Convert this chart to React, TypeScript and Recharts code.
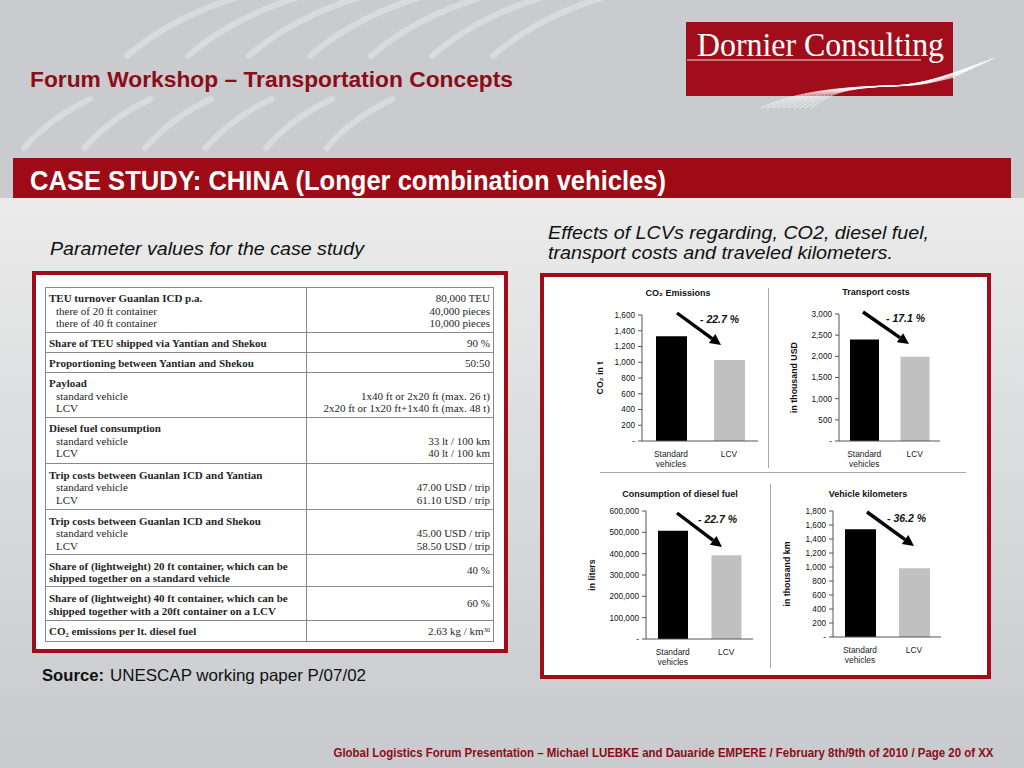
import React from 'react';
import { BarChart, Bar, XAxis, YAxis, Cell } from 'recharts';

// ---------- chart data ----------
const categories = ['Standard vehicles', 'LCV'];
const co2Values = [1330, 1028];
const costValues = [2400, 1990];
const dieselValues = [508000, 392700];
const kmValues = [1540, 983];

const co2Ticks = [0, 200, 400, 600, 800, 1000, 1200, 1400, 1600];
const costTicks = [0, 500, 1000, 1500, 2000, 2500, 3000];
const dieselTicks = [0, 100000, 200000, 300000, 400000, 500000, 600000];
const kmTicks = [0, 200, 400, 600, 800, 1000, 1200, 1400, 1600, 1800];

const chartTitles = ['CO₂ Emissions', 'Transport costs', 'Consumption of diesel fuel', 'Vehicle kilometers'];
const axisLabels = ['CO₂ in t', 'in thousand USD', 'in liters', 'in thousand km'];
const reductions = ['- 22.7 %', '- 17.1 %', '- 22.7 %', '- 36.2 %'];
const barFills = ['#000000', '#c0c0c0'];

// ---------- table text ----------
type Line = { t: string; b?: boolean };
const tableLeft: Line[][] = [
  [{ t: 'TEU turnover Guanlan ICD p.a.', b: true }, { t: 'there of 20 ft container' }, { t: 'there of 40 ft container' }],
  [{ t: 'Share of TEU shipped via Yantian and Shekou', b: true }],
  [{ t: 'Proportioning between Yantian and Shekou', b: true }],
  [{ t: 'Payload', b: true }, { t: 'standard vehicle' }, { t: 'LCV' }],
  [{ t: 'Diesel fuel consumption', b: true }, { t: 'standard vehicle' }, { t: 'LCV' }],
  [{ t: 'Trip costs between Guanlan ICD and Yantian', b: true }, { t: 'standard vehicle' }, { t: 'LCV' }],
  [{ t: 'Trip costs between Guanlan ICD and Shekou', b: true }, { t: 'standard vehicle' }, { t: 'LCV' }],
  [{ t: 'Share of (lightweight) 20 ft container, which can be', b: true }, { t: 'shipped together on a standard vehicle', b: true }],
  [{ t: 'Share of (lightweight) 40 ft container, which can be', b: true }, { t: 'shipped together with a 20ft container on a LCV', b: true }],
  [{ t: 'CO₂ emissions per lt. diesel fuel', b: true }],
];
const tableRight: string[][] = [
  ['80,000 TEU', '40,000 pieces', '10,000 pieces'],
  ['90 %'],
  ['50:50'],
  ['', '1x40 ft or 2x20 ft (max. 26 t)', '2x20 ft or 1x20 ft+1x40 ft (max. 48 t)'],
  ['', '33 lt / 100 km', '40 lt / 100 km'],
  ['', '47.00 USD / trip', '61.10 USD / trip'],
  ['', '45.00 USD / trip', '58.50 USD / trip'],
  ['40 %'],
  ['60 %'],
  ['2.63 kg / km'],
];
const rowHeights = [45, 20, 20, 45, 46.6, 46, 45, 32.4, 33.3, 20.3];
const rowMiddle = [false, false, false, false, false, false, false, true, true, false];

const fmt = (v: number) => (v === 0 ? '-' : v.toLocaleString('en-US'));

const XTick = (props: any) => {
  const { x, y, payload } = props;
  const v = String(payload.value);
  const words = v.length > 8 ? v.split(' ') : [v];
  return (
    <text x={x} y={y} textAnchor="middle" fontSize={8.4} fill="#1a1a1a">
      {words.map((w, i) => (
        <tspan key={i} x={x} dy={i === 0 ? '0.95em' : '1.22em'}>
          {w}
        </tspan>
      ))}
    </text>
  );
};

type MiniProps = {
  left: number;
  top: number;
  yAxisWidth: number;
  plotWidth: number;
  plotHeight: number;
  values: number[];
  ticks: number[];
  label: string;
  labelX: number;
  barSize: number;
};

function MiniChart(p: MiniProps) {
  const data = categories.map((c, i) => ({ name: c, value: p.values[i] }));
  const mt = 10;
  const mr = 5;
  const xh = 30;
  const width = p.yAxisWidth + p.plotWidth + mr;
  const height = mt + p.plotHeight + xh;
  return (
    <div style={{ position: 'absolute', left: p.left, top: p.top, fontFamily: '"Liberation Sans", Arial, sans-serif' }}>
      <BarChart width={width} height={height} data={data} margin={{ top: mt, right: mr, bottom: 0, left: 0 }} barCategoryGap={0}>
        <XAxis
          dataKey="name"
          height={xh}
          tick={<XTick />}
          tickLine={false}
          tickMargin={2}
          axisLine={{ stroke: '#555' }}
          interval={0}
        />
        <YAxis
          width={p.yAxisWidth}
          domain={[0, p.ticks[p.ticks.length - 1]]}
          ticks={p.ticks}
          interval={0}
          tickFormatter={fmt}
          tick={{ fontSize: 8.2, fill: '#111' }}
          tickSize={4}
          tickMargin={3}
          tickLine={{ stroke: '#555' }}
          axisLine={{ stroke: '#555' }}
          allowDataOverflow
          label={{
            value: p.label,
            angle: -90,
            position: 'insideLeft',
            offset: p.labelX,
            style: { textAnchor: 'middle', fontSize: 8.8, fontWeight: 'bold', fill: '#111' },
          }}
        />
        <Bar dataKey="value" barSize={p.barSize} isAnimationActive={false}>
          {data.map((d, i) => (
            <Cell key={i} fill={barFills[i]} />
          ))}
        </Bar>
      </BarChart>
    </div>
  );
}

function Arrow({ x1, y1, x2, y2 }: { x1: number; y1: number; x2: number; y2: number }) {
  const ang = Math.atan2(y2 - y1, x2 - x1);
  const hl = 11;
  const hw = 5.5;
  const bx = x2 - hl * Math.cos(ang);
  const by = y2 - hl * Math.sin(ang);
  const px = -Math.sin(ang) * hw;
  const py = Math.cos(ang) * hw;
  return (
    <g>
      <line x1={x1} y1={y1} x2={bx} y2={by} stroke="#000" strokeWidth={3.4} />
      <polygon points={`${x2},${y2} ${bx + px},${by + py} ${bx - px},${by - py}`} fill="#000" />
    </g>
  );
}

const red = '#9e0b16';
const darkRed = '#8c0d17';
const narrow = '"Liberation Sans Narrow", "Arial Narrow", "Liberation Sans", Arial, sans-serif';

export default function App() {
  const topStripes = [0, 1, 2, 3, 4, 5, 6];
  const bottomStripes = [0, 1, 2, 3, 4, 5];
  const swoosh = [0, 1, 2, 3, 4, 5, 6, 7, 8, 9];
  return (
    <div
      style={{
        position: 'absolute',
        left: 0,
        top: 0,
        width: 1024,
        height: 768,
        overflow: 'hidden',
        fontFamily: '"Liberation Sans", Arial, sans-serif',
      }}
    >
      <svg width={1024} height={768} style={{ position: 'absolute', left: 0, top: 0 }}>
        <defs>
          <linearGradient id="bgGrad" x1="0" y1="0" x2="0" y2="1">
            <stop offset="0" stopColor="#ebebeb" />
            <stop offset="1" stopColor="#c9cbce" />
          </linearGradient>
        </defs>
        <rect x={0} y={0} width={1024} height={768} fill="#c9cbce" />
        <rect x={0} y={198} width={1024} height={545} fill="url(#bgGrad)" />

        {/* background stripes */}
        {topStripes.map((i) => (
          <path
            key={'t' + i}
            d={`M ${127 + 61 * i} 56 Q ${170 + 61 * i} 18 ${238 + 61 * i} -3`}
            stroke="#d9dadc"
            strokeWidth={6}
            fill="none"
            strokeLinecap="round"
          />
        ))}
        {bottomStripes.map((i) => (
          <path
            key={'b' + i}
            d={`M ${24 + 60.5 * i} 148 Q ${50 + 60.5 * i} 118 ${90 + 60.5 * i} 99`}
            stroke="#d9dadc"
            strokeWidth={6}
            fill="none"
            strokeLinecap="round"
          />
        ))}

        {/* header */}
        <text x={30} y={87} fontFamily={narrow} fontSize={22} fontWeight="bold" fill={darkRed} textLength={483} lengthAdjust="spacingAndGlyphs">
          Forum Workshop – Transportation Concepts
        </text>

        {/* logo */}
        <rect x={686} y={22} width={267} height={74} fill="#a10d1b" />
        <text
          x={697}
          y={55.5}
          fontSize={33}
          fontFamily='"Liberation Serif", "Times New Roman", serif'
          fill="#fff"
          textLength={247}
          lengthAdjust="spacingAndGlyphs"
        >
          Dornier Consulting
        </text>
        <line x1={687} y1={60} x2={921} y2={60} stroke="#f3d6d8" strokeWidth={1.2} />
        {swoosh.map((i) => (
          <path
            key={'s' + i}
            d={`M ${761 + 5.5 * i} 108 C ${792 + 4 * i} ${93 + 0.4 * i} ${835} ${87 + 0.2 * i} ${888} ${86} C ${925} ${85.5} ${928 + 3 * i} ${83 - 1.2 * i} ${955 + 4.4 * i} ${77 - 2.1 * i}`}
            stroke="#ffffff"
            strokeOpacity={0.85}
            strokeWidth={0.8}
            fill="none"
          />
        ))}

        {/* banner */}
        <rect x={13} y={158} width={998} height={40} fill={red} />
        <text x={30} y={190} fontFamily={narrow} fontSize={27} fontWeight="bold" fill="#fff" textLength={636} lengthAdjust="spacingAndGlyphs">
          CASE STUDY: CHINA (Longer combination vehicles)
        </text>

        {/* section headings */}
        <text x={50} y={254.5} fontSize={18} fontStyle="italic" fill="#111" textLength={314} lengthAdjust="spacingAndGlyphs">
          Parameter values for the case study
        </text>
        <text x={548} y={238.5} fontSize={18} fontStyle="italic" fill="#111" textLength={381} lengthAdjust="spacingAndGlyphs">
          Effects of LCVs regarding, CO2, diesel fuel,
        </text>
        <text x={548} y={259} fontSize={18} fontStyle="italic" fill="#111" textLength={345} lengthAdjust="spacingAndGlyphs">
          transport costs and traveled kilometers.
        </text>

        {/* frames */}
        <rect x={34} y={273} width={472} height={378} fill="#fff" stroke="#a00c17" strokeWidth={4} />
        <rect x={542} y={275} width={447} height={402} fill="#fff" stroke="#a00c17" strokeWidth={4} />

        {/* chart dividers */}
        <line x1={768.5} y1={288} x2={768.5} y2={468} stroke="#a8a8a8" strokeWidth={1} />
        <line x1={600} y1={472.5} x2={966} y2={472.5} stroke="#a8a8a8" strokeWidth={1} />
        <line x1={770.5} y1={484} x2={770.5} y2={668} stroke="#a8a8a8" strokeWidth={1} />

        {/* source */}
        <text x={42} y={681} fontSize={16.5} fontWeight="bold" fill="#111" textLength={62} lengthAdjust="spacingAndGlyphs">
          Source:
        </text>
        <text x={110} y={681} fontSize={16.5} fill="#111" textLength={256} lengthAdjust="spacingAndGlyphs">
          UNESCAP working paper P/07/02
        </text>

        {/* footer */}
        <text x={333.5} y={756.5} fontFamily={narrow} fontSize={12} fontWeight="bold" fill={darkRed} textLength={660} lengthAdjust="spacingAndGlyphs">
          Global Logistics Forum Presentation – Michael LUEBKE and Dauaride EMPERE / February 8th/9th of 2010 / Page 20 of XX
        </text>
      </svg>

      {/* parameter table */}
      <div
        style={{
          position: 'absolute',
          left: 45,
          top: 286.5,
          width: 449,
          border: '1px solid #8a8a8a',
          boxSizing: 'border-box',
          fontFamily: '"Liberation Serif", "Times New Roman", serif',
          fontSize: 11,
          color: '#262626',
          lineHeight: '12.6px',
          background: '#fff',
        }}
      >
        {tableLeft.map((lines, r) => (
          <div
            key={r}
            style={{
              display: 'flex',
              height: rowHeights[r],
              boxSizing: 'border-box',
              borderBottom: r < tableLeft.length - 1 ? '1px solid #8a8a8a' : 'none',
            }}
          >
            <div
              style={{
                width: 261,
                boxSizing: 'border-box',
                borderRight: '1px solid #8a8a8a',
                padding: '4.5px 2px 0 3px',
                whiteSpace: 'nowrap',
                overflow: 'hidden',
              }}
            >
              {lines.map((l, k) => (
                <div key={k} style={{ fontWeight: l.b ? 'bold' : 'normal', paddingLeft: l.b ? 0 : 7 }}>
                  {l.t}
                </div>
              ))}
            </div>
            <div
              style={{
                flex: 1,
                textAlign: 'right',
                padding: rowMiddle[r] ? '0 3px 0 0' : '4.5px 3px 0 0',
                display: 'flex',
                flexDirection: 'column',
                justifyContent: rowMiddle[r] ? 'center' : 'flex-start',
                whiteSpace: 'nowrap',
              }}
            >
              {tableRight[r].map((t, k) => (
                <div key={k} style={{ height: 12.6 }}>
                  {t}
                  {r === tableRight.length - 1 && k === 0 ? (
                    <sup style={{ fontSize: 6.5, verticalAlign: 'top', position: 'relative', top: -1 }}>30</sup>
                  ) : null}
                </div>
              ))}
            </div>
          </div>
        ))}
      </div>

      {/* four charts */}
      <MiniChart left={585} top={305} yAxisWidth={57} plotWidth={116} plotHeight={126} values={co2Values} ticks={co2Ticks} label={axisLabels[0]} labelX={15} barSize={31} />
      <MiniChart left={780} top={304} yAxisWidth={59} plotWidth={101} plotHeight={127} values={costValues} ticks={costTicks} label={axisLabels[1]} labelX={14} barSize={29} />
      <MiniChart left={575} top={501} yAxisWidth={71} plotWidth={107} plotHeight={128} values={dieselValues} ticks={dieselTicks} label={axisLabels[2]} labelX={17} barSize={30} />
      <MiniChart left={775} top={501} yAxisWidth={58} plotWidth={108} plotHeight={126} values={kmValues} ticks={kmTicks} label={axisLabels[3]} labelX={12} barSize={31} />

      {/* titles, arrows, percentages */}
      <svg width={1024} height={768} style={{ position: 'absolute', left: 0, top: 0, pointerEvents: 'none' }}>
        <g fontWeight="bold" fontSize={9} fill="#111" textAnchor="middle">
          <text x={678} y={295.5}>{chartTitles[0]}</text>
          <text x={876} y={295}>{chartTitles[1]}</text>
          <text x={680} y={497}>{chartTitles[2]}</text>
          <text x={868} y={497}>{chartTitles[3]}</text>
        </g>
        <Arrow x1={677} y1={313} x2={721} y2={345} />
        <Arrow x1={863} y1={312} x2={909} y2={344} />
        <Arrow x1={677} y1={513} x2={722} y2={547} />
        <Arrow x1={867} y1={512} x2={914} y2={546} />
        <g fontWeight="bold" fontStyle="italic" fontSize={10.5} fill="#111">
          <text x={700} y={322.5}>{reductions[0]}</text>
          <text x={886} y={322}>{reductions[1]}</text>
          <text x={698} y={523}>{reductions[2]}</text>
          <text x={887} y={522}>{reductions[3]}</text>
        </g>
      </svg>
    </div>
  );
}
